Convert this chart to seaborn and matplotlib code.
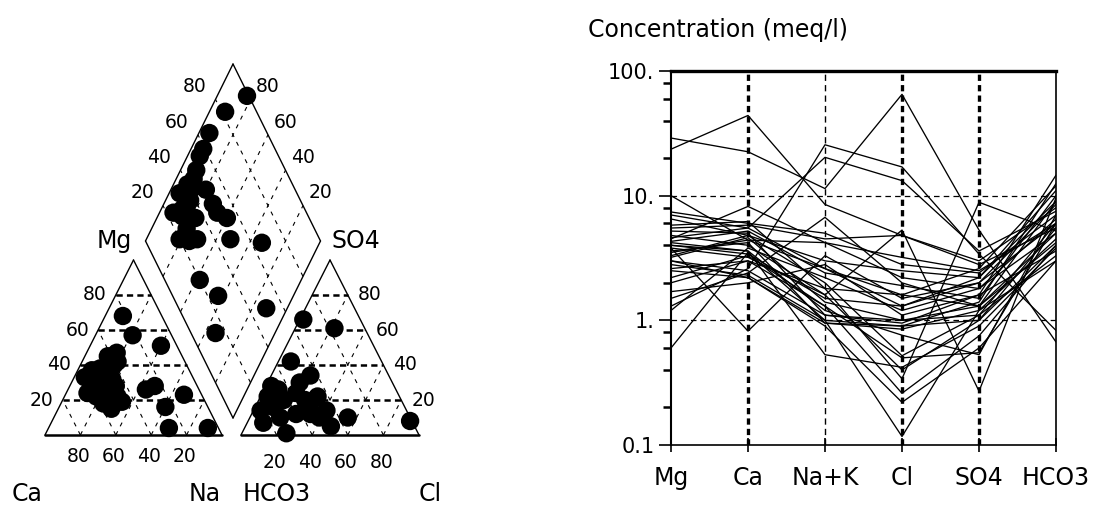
import numpy as np
import pandas as pd
import matplotlib
matplotlib.use("Agg")
import matplotlib.pyplot as plt
import seaborn as sns

# ---------------- data ----------------
# Piper: cation triangle (percent of meq)
cation_mg = [68, 57, 51, 47, 37, 33, 40, 26, 18, 22, 22, 26, 28, 23, 16, 4, 4, 35, 19, 30, 28, 15, 24, 45, 42, 38, 32]
cation_na = [10, 21, 40, 17, 8, 6, 19, 22, 24, 30, 18, 44, 48, 67, 60, 68, 90, 17, 34, 14, 26, 30, 12, 13, 20, 12, 22]
# Piper: anion triangle
anion_so4 = [66, 61, 42, 34, 28, 22, 14, 20, 10, 30, 22, 14, 5, 1, 10, 8, 7, 24, 18, 10, 16, 26, 12, 20, 12]
anion_cl = [2, 22, 7, 22, 3, 4, 4, 14, 17, 18, 32, 41, 48, 25, 55, 91, 9, 19, 30, 39, 10, 8, 25, 26, 33]
# Piper: diamond (SO4+Cl %, Ca+Mg %)
dia_so4cl = [99, 82, 67, 55, 49, 33, 49, 49, 53, 24, 27, 20, 30, 49, 66, 20, 26, 50, 14, 37, 59, 33, 49, 42, 30,
             40, 45, 28, 35, 25]
dia_camg = [83, 91, 94, 93, 91, 94, 80, 72, 60, 92, 80, 81, 71, 52, 33, 58, 43, 12, 34, 86, 93, 86, 67, 88, 88,
            92, 90, 86, 78, 75]

grid_levels = [20, 40, 60, 80]

# Schoeller diagram (meq/l)
ions = ["Mg", "Ca", "Na+K", "Cl", "SO4", "HCO3"]
mg = [23.6, 29, 1.3, 7.0, 2.0, 4.5, 10, 3.8, 0.6, 3.8, 4.2, 3.0, 2.6, 4.8, 3.3, 4.0, 5.2, 3.6, 2.8, 3.0,
      2.5, 4.6, 5.5, 7.4, 6.5, 1.2, 1.5, 3.5, 4.3, 1.7, 4.0, 5.8, 2.2, 3.2]
ca = [44, 22.5, 2.6, 5.5, 3.0, 8.2, 4.4, 3.2, 3.5, 0.82, 3.6, 2.2, 3.0, 4.0, 4.8, 3.6, 5.0, 4.2, 2.3, 2.5,
      2.2, 5.5, 5.8, 6.0, 4.8, 3.8, 2.4, 4.4, 5.2, 2.0, 3.4, 6.2, 3.3, 4.6]
nak = [8.5, 11.4, 25.6, 20.3, 1.8, 4.2, 2.6, 1.6, 1.0, 3.3, 0.53, 0.9, 1.3, 1.6, 2.0, 1.2, 1.1, 0.95, 1.0, 1.1,
       0.95, 2.6, 4.5, 5.0, 3.0, 2.2, 6.7, 4.2, 2.4, 2.8, 1.5, 1.8, 1.3, 1.4]
cl = [4.8, 65, 17, 13.2, 0.34, 2.2, 1.6, 5.3, 0.117, 1.5, 0.42, 0.22, 0.26, 0.4, 0.52, 0.76, 0.95, 0.9, 0.9, 1.0,
      0.85, 1.3, 4.8, 2.8, 2.5, 1.2, 2.0, 3.2, 1.9, 1.1, 1.3, 1.6, 0.5, 1.0]
so4 = [2.8, 5.3, 3.4, 3.6, 8.85, 1.8, 1.3, 0.27, 1.2, 2.0, 0.9, 0.6, 0.75, 1.0, 1.1, 0.53, 1.6, 1.4, 1.0, 1.1,
       1.2, 2.2, 3.0, 2.4, 2.2, 1.8, 1.3, 2.5, 1.5, 1.6, 2.0, 2.6, 0.55, 1.3]
hco3 = [5.5, 0.67, 0.83, 7.5, 5.2, 6.5, 9.0, 9.6, 4.5, 6.0, 3.8, 3.0, 4.0, 5.5, 6.0, 7.0, 14.6, 12.5, 4.0, 3.3,
        3.0, 9.0, 8.0, 7.0, 11.0, 5.0, 4.2, 6.0, 10.0, 3.6, 8.5, 12.0, 6.0, 5.0]

ytick_vals = [0.1, 1, 10, 100]
ytick_labels = ["0.1", "1.", "10.", "100."]

# ---------------- style ----------------
sns.set_theme(style="white")
plt.rcParams["font.family"] = ["DejaVu Sans"]
plt.rcParams["lines.scale_dashes"] = False
for k in ["text.color", "axes.labelcolor", "xtick.color", "ytick.color", "axes.edgecolor"]:
    plt.rcParams[k] = "black"

fig = plt.figure(figsize=(10.95, 5.05), dpi=100)

# ---------------- Piper (left) ----------------
ax0 = fig.add_axes([0, 0, 450 / 1095, 1])

# layout (pixel-like coordinates)
CX0, CX1, CY0, CH = 45.0, 222.0, 435.0, 175.0     # cation triangle
AX0, AX1, AY0, AH = 241.0, 419.0, 435.0, 175.0    # anion triangle
DB = np.array([233.0, 418.0])                      # diamond bottom
DL = np.array([145.5, 241.0])                      # diamond left
DR = np.array([320.5, 241.0])                      # diamond right


def cat_xy(m, n):
    m, n = np.asarray(m) / 100.0, np.asarray(n) / 100.0
    return CX0 + (n + m / 2) * (CX1 - CX0), CY0 - m * CH


def an_xy(s, c):
    s, c = np.asarray(s) / 100.0, np.asarray(c) / 100.0
    return AX0 + (c + s / 2) * (AX1 - AX0), AY0 - s * AH


def dia_xy(a, b):
    a, b = np.asarray(a) / 100.0, np.asarray(b) / 100.0
    x = DB[0] + a * (DR[0] - DB[0]) + b * (DL[0] - DB[0])
    y = DB[1] + a * (DR[1] - DB[1]) + b * (DL[1] - DB[1])
    return x, y


def seg(p, q, **kw):
    ax0.plot([p[0], q[0]], [p[1], q[1]], color="black", zorder=1, **kw)


thin = dict(lw=0.8, dashes=(3, 4))
bold = dict(lw=1.8, dashes=(4.5, 3))
frame = dict(lw=1.0)

# cation triangle
seg(cat_xy(0, 0), cat_xy(100, 0), **frame)
seg(cat_xy(100, 0), cat_xy(0, 100), **frame)
seg(cat_xy(0, 0), cat_xy(0, 100), lw=1.8)
for v in grid_levels:
    seg(cat_xy(v, 0), cat_xy(v, 100 - v), **bold)
    seg(cat_xy(0, v), cat_xy(100 - v, v), **thin)
    seg(cat_xy(0, 100 - v), cat_xy(100 - v, 0), **thin)
# anion triangle
seg(an_xy(0, 0), an_xy(100, 0), **frame)
seg(an_xy(100, 0), an_xy(0, 100), **frame)
seg(an_xy(0, 0), an_xy(0, 100), lw=1.8)
for v in grid_levels:
    seg(an_xy(v, 0), an_xy(v, 100 - v), **bold)
    seg(an_xy(0, v), an_xy(100 - v, v), **thin)
    seg(an_xy(0, 100 - v), an_xy(100 - v, 0), **thin)
# diamond
for (a1, b1), (a2, b2) in [((0, 0), (100, 0)), ((100, 0), (100, 100)), ((100, 100), (0, 100)), ((0, 100), (0, 0))]:
    seg(dia_xy(a1, b1), dia_xy(a2, b2), **frame)
for v in grid_levels:
    seg(dia_xy(v, 0), dia_xy(v, 100), **thin)
    seg(dia_xy(0, v), dia_xy(100, v), **thin)

# points
px, py = cat_xy(cation_mg, cation_na)
qx, qy = an_xy(anion_so4, anion_cl)
rx, ry = dia_xy(dia_so4cl, dia_camg)
pts = pd.DataFrame({"x": np.concatenate([px, qx, rx]), "y": np.concatenate([py, qy, ry])})
sns.scatterplot(data=pts, x="x", y="y", ax=ax0, color="black", s=175, marker="o",
                edgecolor="none", linewidth=0, zorder=3, legend=False)

# labels
nfs = 13.5
for v in grid_levels:
    x, y = cat_xy(v, 0)
    ax0.text(x - 9, y, str(v), ha="right", va="center", fontsize=nfs)
    x, y = cat_xy(0, 100 - v)
    ax0.text(x - 2, CY0 + 22, str(v), ha="center", va="center", fontsize=nfs)
    x, y = an_xy(v, 100 - v)
    ax0.text(x + 10, y, str(v), ha="left", va="center", fontsize=nfs)
    x, y = an_xy(0, v)
    ax0.text(x - 2, AY0 + 27, str(v), ha="center", va="center", fontsize=nfs)
    x, y = dia_xy(v, 100)
    ax0.text(x - 21, y - 12.6, str(v), ha="center", va="center", fontsize=nfs)
    x, y = dia_xy(100, v)
    ax0.text(x + 17.5, y - 12.6, str(v), ha="center", va="center", fontsize=nfs)

cfs = 17
ax0.text(27, 501, "Ca", ha="center", va="baseline", fontsize=cfs)
ax0.text(205, 501, "Na", ha="center", va="baseline", fontsize=cfs)
ax0.text(277, 501, "HCO3", ha="center", va="baseline", fontsize=cfs)
ax0.text(430, 501, "Cl", ha="center", va="baseline", fontsize=cfs)
ax0.text(114.5, 248, "Mg", ha="center", va="baseline", fontsize=cfs)
ax0.text(356, 248, "SO4", ha="center", va="baseline", fontsize=cfs)

ax0.set_xlim(0, 450)
ax0.set_ylim(505, 0)
ax0.axis("off")

# ---------------- Schoeller (right) ----------------
ax1 = fig.add_axes([671 / 1095, (505 - 445) / 505, (1056 - 671) / 1095, (445 - 71) / 505])
series = [mg, ca, nak, cl, so4, hco3]
rows = []
for j, ion in enumerate(ions):
    for i, val in enumerate(series[j]):
        rows.append({"sample": i, "pos": j, "value": val})
df = pd.DataFrame(rows)
sns.lineplot(data=df, x="pos", y="value", units="sample", estimator=None,
             color="black", lw=0.95, ax=ax1, legend=False, zorder=3)
ax1.set_yscale("log")
ax1.set_ylim(0.1, 100)
ax1.set_xlim(0, len(ions) - 1)

# grid
for j, lw in zip([1, 2, 3, 4], [2.4, 1.0, 2.4, 2.4]):
    ax1.axvline(j, color="black", lw=lw, dashes=(4.5, 3), zorder=1)
for v in [1, 10]:
    ax1.axhline(v, color="black", lw=0.9, dashes=(4, 3), zorder=1)

ax1.set_yticks(ytick_vals)
ax1.set_yticklabels(ytick_labels)
ax1.set_yticks([0.2, 0.4, 0.6, 0.8, 2, 4, 6, 8, 20, 40, 60, 80], minor=True)
ax1.yaxis.set_minor_formatter(matplotlib.ticker.NullFormatter())
ax1.tick_params(axis="y", which="major", direction="out", length=9, width=1.2, pad=3, labelsize=15, left=True)
ax1.tick_params(axis="y", which="minor", direction="out", length=6, width=1.8, left=True)
ax1.set_xticks(range(len(ions)))
ax1.set_xticklabels(ions)
ax1.tick_params(axis="x", which="major", direction="inout", length=10, width=1.2, pad=10, labelsize=17, bottom=True)
ax1.set_xlabel("")
ax1.set_ylabel("")

for side, lw in [("top", 2.4), ("left", 1.5), ("bottom", 1.2), ("right", 1.2)]:
    ax1.spines[side].set_visible(True)
    ax1.spines[side].set_color("black")
    ax1.spines[side].set_linewidth(lw)

fig.text(588 / 1095, 1 - 37 / 505, "Concentration (meq/l)", ha="left", va="baseline", fontsize=17)

fig.savefig("out.png", dpi=100, facecolor="white")
